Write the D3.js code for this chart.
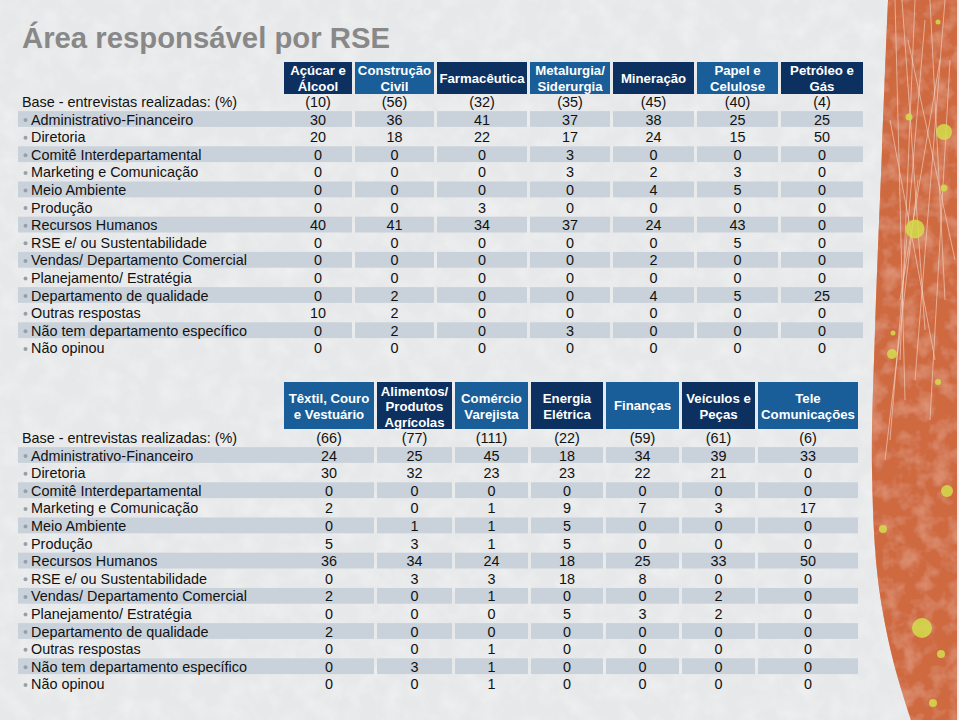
<!DOCTYPE html>
<html><head><meta charset="utf-8">
<script src="https://cdn.jsdelivr.net/npm/d3@7"></script>
<style>
body{margin:0;background:#ececec;}
svg{display:block;font-family:"Liberation Sans",Arial,Helvetica,sans-serif;}
</style>
</head><body>
<svg id="chart" width="959" height="720"></svg>
<script>
// ---------- DATA ----------
const titleText = "Área responsável por RSE";
const baseLabel = "Base - entrevistas realizadas: (%)";
const rowLabels = [
  "Administrativo-Financeiro", "Diretoria", "Comitê Interdepartamental",
  "Marketing e Comunicação", "Meio Ambiente", "Produção", "Recursos Humanos",
  "RSE e/ ou Sustentabilidade", "Vendas/ Departamento Comercial",
  "Planejamento/ Estratégia", "Departamento de qualidade", "Outras respostas",
  "Não tem departamento específico", "Não opinou"
];

const topCategories = ["Açúcar e|Álcool", "Construção|Civil", "Farmacêutica",
  "Metalurgia/|Siderurgia", "Mineração", "Papel e|Celulose", "Petróleo e|Gás"];
const topBase = [10, 56, 32, 35, 45, 40, 4];
const topValues = [
  [30, 36, 41, 37, 38, 25, 25],
  [20, 18, 22, 17, 24, 15, 50],
  [0, 0, 0, 3, 0, 0, 0],
  [0, 0, 0, 3, 2, 3, 0],
  [0, 0, 0, 0, 4, 5, 0],
  [0, 0, 3, 0, 0, 0, 0],
  [40, 41, 34, 37, 24, 43, 0],
  [0, 0, 0, 0, 0, 5, 0],
  [0, 0, 0, 0, 2, 0, 0],
  [0, 0, 0, 0, 0, 0, 0],
  [0, 2, 0, 0, 4, 5, 25],
  [10, 2, 0, 0, 0, 0, 0],
  [0, 2, 0, 3, 0, 0, 0],
  [0, 0, 0, 0, 0, 0, 0]
];

const bottomCategories = ["Têxtil, Couro|e Vestuário", "Alimentos/|Produtos|Agrícolas",
  "Comércio|Varejista", "Energia|Elétrica", "Finanças", "Veículos e|Peças", "Tele|Comunicações"];
const bottomBase = [66, 77, 111, 22, 59, 61, 6];
const bottomValues = [
  [24, 25, 45, 18, 34, 39, 33],
  [30, 32, 23, 23, 22, 21, 0],
  [0, 0, 0, 0, 0, 0, 0],
  [2, 0, 1, 9, 7, 3, 17],
  [0, 1, 1, 5, 0, 0, 0],
  [5, 3, 1, 5, 0, 0, 0],
  [36, 34, 24, 18, 25, 33, 50],
  [0, 3, 3, 18, 8, 0, 0],
  [2, 0, 1, 0, 0, 2, 0],
  [0, 0, 0, 5, 3, 2, 0],
  [2, 0, 0, 0, 0, 0, 0],
  [0, 0, 1, 0, 0, 0, 0],
  [0, 3, 1, 0, 0, 0, 0],
  [0, 0, 1, 0, 0, 0, 0]
];

// ---------- LAYOUT ----------
const W = 959, H = 720;
const svg = d3.select("#chart");
const COLOR_DARK = "#0c3161", COLOR_MED = "#195e99", STRIPE = "#c9d2db";
const FONT = 14.4;

// defs: paper texture
const defs = svg.append("defs");
const f = defs.append("filter").attr("id", "paper").attr("x", 0).attr("y", 0).attr("width", "100%").attr("height", "100%");
f.append("feTurbulence").attr("type", "fractalNoise").attr("baseFrequency", 0.05).attr("numOctaves", 4).attr("seed", 3).attr("result", "n");
f.append("feColorMatrix").attr("in", "n").attr("type", "matrix")
  .attr("values", "0 0 0 0 1  0 0 0 0 1  0 0 0 0 1  0 0 0 -1.2 0.75").attr("result", "w");
f.append("feComposite").attr("in", "w").attr("in2", "SourceGraphic").attr("operator", "over");

const f2 = defs.append("filter").attr("id", "rough").attr("x", 0).attr("y", 0).attr("width", "100%").attr("height", "100%");
f2.append("feTurbulence").attr("type", "fractalNoise").attr("baseFrequency", 0.06).attr("numOctaves", 3).attr("seed", 7).attr("result", "n");
f2.append("feColorMatrix").attr("in", "n").attr("type", "matrix")
  .attr("values", "0 0 0 0 0.95  0 0 0 0 0.66  0 0 0 0 0.55  0 0 0 -1.6 0.9").attr("result", "w");
f2.append("feComposite").attr("in", "w").attr("in2", "SourceGraphic").attr("operator", "atop");

// background
svg.append("rect").attr("width", W).attr("height", H).attr("fill", "#e7e8e9");
svg.append("rect").attr("width", W).attr("height", H).attr("fill", "#e7e8e9").attr("filter", "url(#paper)").attr("opacity", 0.5);

// decorative orange strip
const stripPts = [[888, 0], [882, 150], [875, 330], [872, 470], [878, 580], [893, 660], [911, 720]];
const stripLine = d3.line().curve(d3.curveCatmullRom);
const stripPath = stripLine(stripPts) + "L957,720L957,0Z";
svg.append("path").attr("d", stripPath).attr("fill", "#cf6a40");
svg.append("path").attr("d", stripPath).attr("fill", "#cf6a40").attr("filter", "url(#rough)").attr("opacity", 0.45);
const clip = defs.append("clipPath").attr("id", "stripClip");
clip.append("path").attr("d", stripPath);
const streaks = [[895, 0, 905, 400], [902, 0, 925, 330], [915, 0, 900, 360], [930, 0, 945, 300], [945, 0, 915, 380],
  [908, 40, 955, 260], [890, 120, 935, 360], [925, 20, 890, 440], [950, 60, 930, 420], [900, 300, 940, 60], [918, 180, 885, 460]];
svg.append("g").attr("clip-path", "url(#stripClip)").selectAll("line").data(streaks).join("line")
  .attr("x1", d => d[0]).attr("y1", d => d[1]).attr("x2", d => d[2]).attr("y2", d => d[3])
  .attr("stroke", "#f3d2c2").attr("stroke-width", 1).attr("opacity", 0.65);
const dots = [[938, 22, 2.5], [909, 117, 3.5], [944, 132, 8], [944, 188, 3.5], [915, 229, 9.5], [893, 333, 2.5],
  [892, 354, 5], [938, 382, 3], [947, 491, 6], [883, 529, 4], [922, 628, 10], [941, 654, 4], [933, 703, 4]];
svg.append("g").selectAll("circle").data(dots).join("circle")
  .attr("cx", d => d[0]).attr("cy", d => d[1]).attr("r", d => d[2])
  .attr("fill", "#d3dd4c").attr("opacity", 0.85);

// title
svg.append("text").attr("x", 22).attr("y", 48).text(titleText)
  .attr("font-size", 29.3).attr("font-weight", "bold").attr("fill", "#888888");

function drawTable(cfg) {
  const g = svg.append("g");
  const lefts = [], rights = [];
  let x = cfg.x0;
  cfg.widths.forEach(w => { lefts.push(x); rights.push(x + w); x += w + 3; });
  const colL = d3.scaleOrdinal(cfg.categories, lefts);
  const colR = d3.scaleOrdinal(cfg.categories, rights);
  const colC = c => (colL(c) + colR(c)) / 2;

  const rows = [baseLabel].concat(rowLabels);
  const y = d3.scaleBand(rows, [cfg.rowTop, cfg.rowTop + rows.length * 17.6]);

  // header
  const hd = g.selectAll("g.h").data(cfg.categories).join("g");
  hd.append("rect").attr("x", d => colL(d)).attr("width", d => colR(d) - colL(d))
    .attr("y", cfg.hTop).attr("height", cfg.hBot - cfg.hTop)
    .attr("fill", (d, i) => (i % 2 === cfg.darkParity) ? COLOR_DARK : COLOR_MED);
  hd.each(function (d) {
    const lines = d.split("|");
    const lh = cfg.lineH;
    const mid = (cfg.hTop + cfg.hBot) / 2 + cfg.hShift * (lines.length - 1);
    const t = d3.select(this).append("text").attr("text-anchor", "middle")
      .attr("fill", "#fff").attr("font-weight", "bold").attr("font-size", 13.2);
    lines.forEach((l, k) => {
      t.append("tspan").attr("x", colC(d))
        .attr("y", mid + (k - (lines.length - 1) / 2) * lh).attr("dy", "0.36em").text(l);
    });
  });

  // stripes
  const striped = rowLabels.filter((r, i) => i % 2 === 0);
  striped.forEach(r => {
    g.append("rect").attr("x", 18).attr("width", colR(cfg.categories[0]) - 18)
      .attr("y", y(r) + 0.3).attr("height", y.bandwidth() - 1.8).attr("fill", STRIPE);
    cfg.categories.slice(1).forEach(c => {
      g.append("rect").attr("x", colL(c)).attr("width", colR(c) - colL(c))
        .attr("y", y(r) + 0.3).attr("height", y.bandwidth() - 1.8).attr("fill", STRIPE);
    });
  });

  const cy = r => y(r) + y.bandwidth() / 2;
  // base row
  g.append("text").attr("x", 22).attr("y", cy(baseLabel)).attr("dy", "0.35em")
    .attr("font-size", FONT).attr("fill", "#111").text(baseLabel);
  g.selectAll("text.b").data(cfg.base).join("text")
    .attr("x", (d, i) => colC(cfg.categories[i])).attr("y", cy(baseLabel)).attr("dy", "0.35em")
    .attr("text-anchor", "middle").attr("font-size", FONT).attr("fill", "#111").text(d => "(" + d + ")");

  // rows
  rowLabels.forEach((r, ri) => {
    g.append("circle").attr("cx", 25.5).attr("cy", cy(r) + 0.5).attr("r", 2).attr("fill", "#96a0aa");
    g.append("text").attr("x", 31).attr("y", cy(r)).attr("dy", "0.35em")
      .attr("font-size", FONT).attr("fill", "#111").text(r);
    cfg.values[ri].forEach((v, ci) => {
      g.append("text").attr("x", colC(cfg.categories[ci])).attr("y", cy(r)).attr("dy", "0.35em")
        .attr("text-anchor", "middle").attr("font-size", FONT).attr("fill", "#111").text(v);
    });
  });
}

drawTable({
  categories: topCategories, base: topBase, values: topValues,
  x0: 284, widths: [68, 79, 90, 80, 81, 81, 82],
  hTop: 62, hBot: 94, lineH: 16, hShift: 0.5, darkParity: 0, rowTop: 93.2
});
drawTable({
  categories: bottomCategories, base: bottomBase, values: bottomValues,
  x0: 284, widths: [90, 75, 73, 72, 73, 73, 100],
  hTop: 382, hBot: 429, lineH: 15.5, hShift: 0.5, darkParity: 1, rowTop: 429.2
});
</script>
</body></html>
